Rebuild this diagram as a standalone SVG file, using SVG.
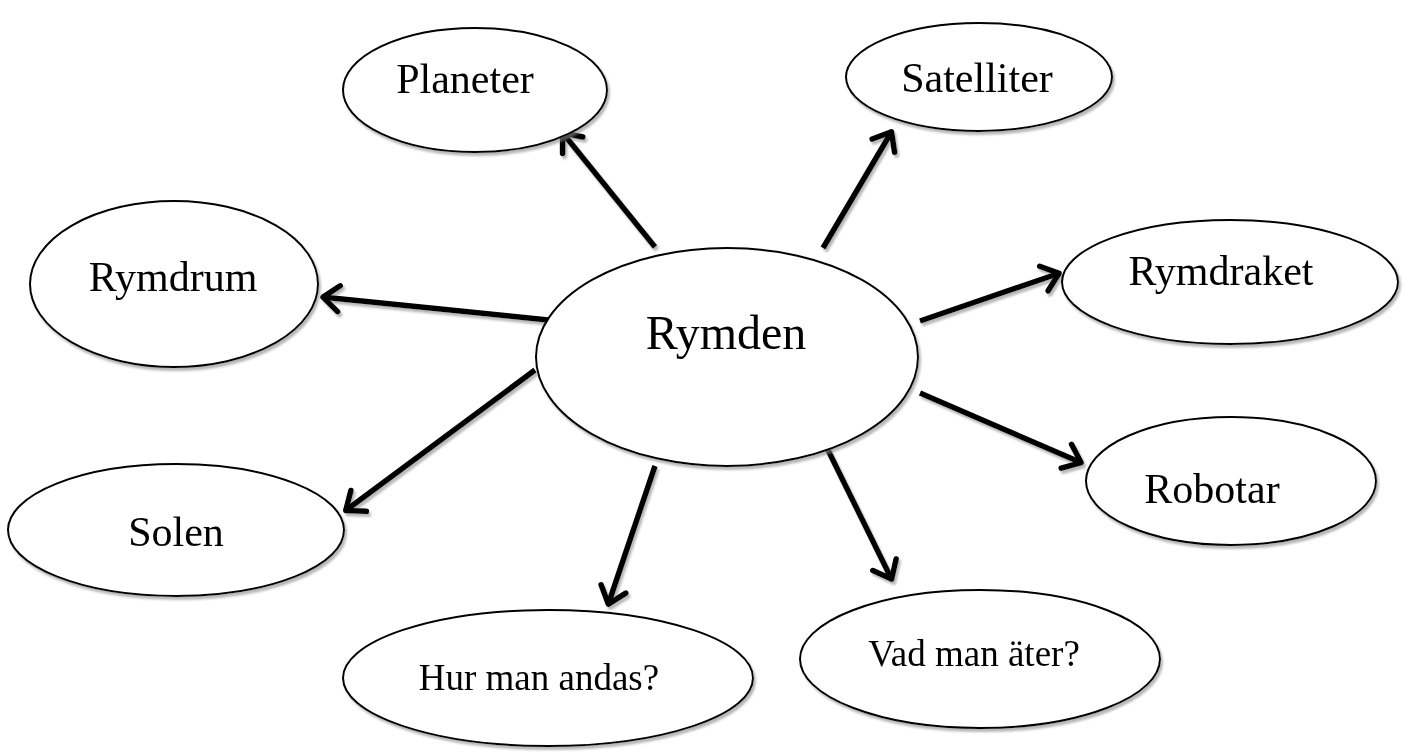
<svg xmlns="http://www.w3.org/2000/svg" width="1410" height="753" viewBox="0 0 1410 753">
<style>
.node ellipse{fill:#fff;stroke:#000;stroke-width:2}
.node text{font-family:"Liberation Serif","Times New Roman",serif;fill:#000;text-anchor:middle}
.big{font-size:42px}
.small{font-size:37px}
.center{font-size:48px}
.conn line{stroke:#000;stroke-width:5.5;marker-end:url(#arr)}
</style>
<defs>
<filter id="sh" x="-10%" y="-10%" width="125%" height="130%">
<feDropShadow dx="2" dy="3" stdDeviation="1" flood-color="#888" flood-opacity="0.6"/>
</filter>
<marker id="arr" markerUnits="userSpaceOnUse" viewBox="-26 -17 30 34" refX="0" refY="0" markerWidth="30" markerHeight="34" orient="auto">
<path d="M-17,-13 L-1,0 L-17,13" fill="none" stroke="#000" stroke-width="5.5" stroke-linejoin="round" stroke-linecap="round"/>
</marker>
</defs>
<g id="connectors" class="conn" filter="url(#sh)">
<line x1="655" y1="247" x2="562" y2="132"/>
<line x1="823" y1="248" x2="892" y2="131"/>
<line x1="558" y1="321" x2="322" y2="297"/>
<line x1="920" y1="321" x2="1060" y2="273"/>
<line x1="920" y1="393" x2="1082" y2="463"/>
<line x1="535" y1="370" x2="345" y2="511"/>
<line x1="655" y1="466" x2="608" y2="605"/>
<line x1="824" y1="442" x2="892" y2="580"/>
</g>
<g id="rymden" class="node" filter="url(#sh)">
<ellipse cx="727" cy="357" rx="191" ry="109"/>
<text class="center" x="726" y="349">Rymden</text>
</g>
<g id="planeter" class="node" filter="url(#sh)">
<ellipse cx="475" cy="90" rx="132" ry="62"/>
<text class="big" x="465" y="93">Planeter</text>
</g>
<g id="satelliter" class="node" filter="url(#sh)">
<ellipse cx="979" cy="77" rx="133" ry="54"/>
<text class="big" x="977" y="92">Satelliter</text>
</g>
<g id="rymdrum" class="node" filter="url(#sh)">
<ellipse cx="174" cy="284" rx="144" ry="83"/>
<text class="big" x="173" y="291">Rymdrum</text>
</g>
<g id="rymdraket" class="node" filter="url(#sh)">
<ellipse cx="1230" cy="282" rx="168" ry="62"/>
<text class="big" x="1221" y="285">Rymdraket</text>
</g>
<g id="robotar" class="node" filter="url(#sh)">
<ellipse cx="1231" cy="481" rx="145" ry="64"/>
<text class="big" x="1212" y="503">Robotar</text>
</g>
<g id="solen" class="node" filter="url(#sh)">
<ellipse cx="176" cy="530" rx="168" ry="66"/>
<text class="big" x="176" y="546">Solen</text>
</g>
<g id="hur" class="node" filter="url(#sh)">
<ellipse cx="548" cy="678" rx="205" ry="68"/>
<text class="small" x="539" y="690">Hur man andas?</text>
</g>
<g id="vad" class="node" filter="url(#sh)">
<ellipse cx="980" cy="659" rx="180" ry="69"/>
<text class="small" x="974" y="666">Vad man äter?</text>
</g>
</svg>
